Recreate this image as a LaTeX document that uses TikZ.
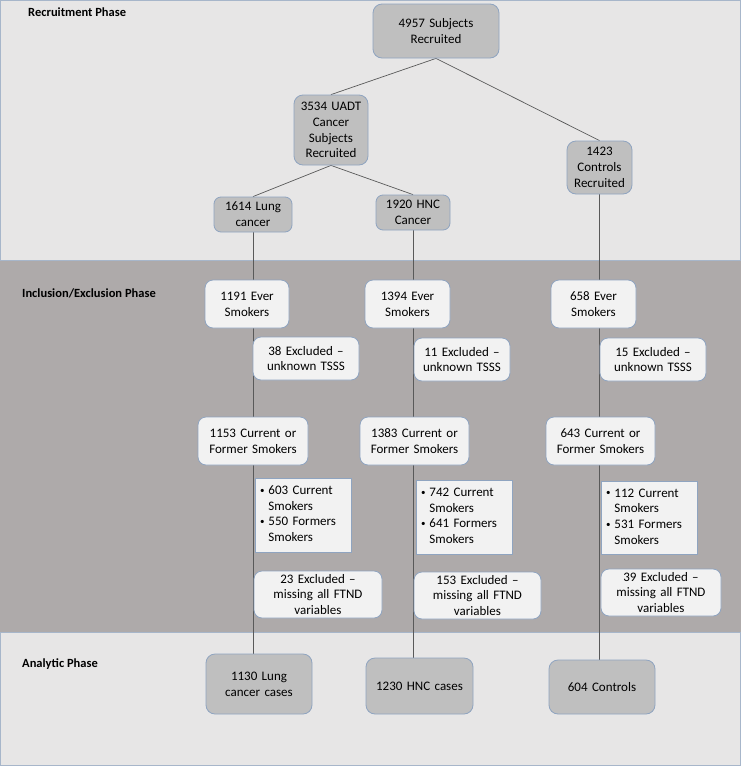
\documentclass[tikz,border=0pt]{standalone}
\usepackage{fontspec}
\setmainfont{Carlito}
\usetikzlibrary{calc}
\definecolor{bandlight}{HTML}{E7E6E6}
\definecolor{banddark}{HTML}{AEAAAA}
\definecolor{bandedge}{HTML}{A7B6CA}
\definecolor{boxdark}{HTML}{BFBFBF}
\definecolor{boxlight}{HTML}{F2F2F2}
\definecolor{boxedge}{HTML}{8FA4C0}
\definecolor{linkcol}{HTML}{595959}
\pgfdeclarelayer{bands}
\pgfdeclarelayer{background}
\pgfsetlayers{bands,background,main}
\newcommand{\smallbul}{{\fontsize{9}{9}\selectfont\raisebox{1.2pt}{•}}}
\tikzset{
  base/.style={draw=boxedge, line width=0.8pt, inner sep=0pt, align=center,
    font=\fontsize{13}{15.7}\selectfont, text=black},
  darkbox/.style={base, fill=boxdark, rounded corners=9pt},
  lightbox/.style={base, fill=boxlight, rounded corners=8pt},
  listbox/.style={base, fill=boxlight, align=left},
  link/.style={draw=linkcol, line width=0.7pt},
  phase/.style={font=\fontsize{12.5}{15}\selectfont\bfseries, anchor=north west, inner sep=0pt},
  band/.style={draw=bandedge, line width=1pt},
  bx/.style n args={3}{minimum width=#1pt, minimum height=#2pt, text width=#3pt}
}
\begin{document}
\begin{tikzpicture}[x=1pt,y=-1pt]
\useasboundingbox (0,0) rectangle (741,766);
% Nodes: recruitment
\node[darkbox, bx={126}{54}{116}] (n4957) at (436,31) {4957 Subjects\\Recruited};
\node[darkbox, bx={74}{70}{70}] (n3534) at (331,130) {3534 UADT\\Cancer\\Subjects\\Recruited};
\node[darkbox, bx={65}{53}{62}] (n1423) at (599.5,167.5) {1423\\Controls\\Recruited};
\node[darkbox, rounded corners=7pt, bx={78}{35}{74}] (n1614) at (253,214.5) {1614 Lung\\cancer};
\node[darkbox, rounded corners=7pt, bx={74}{35}{70}] (n1920) at (413,212.5) {1920 HNC\\Cancer};
% Inclusion / exclusion column 1
\node[lightbox, bx={84}{48}{80}] (e1191) at (247,304) {1191 Ever\\Smokers};
\node[lightbox, bx={106}{43}{100}] (x38) at (306,358.5) {38 Excluded --\\unknown TSSS};
\node[lightbox, bx={110}{48}{106}] (c1153) at (253,441) {1153 Current or\\Former Smokers};
\node[listbox, bx={96}{74}{86}] (b603) at (303,515) {\begin{tabular}{@{}l@{\hspace{4pt}}l@{}}\smallbul&603 Current\\&Smokers\\\smallbul&550 Formers\\&Smokers\end{tabular}};
\node[lightbox, bx={128}{47}{124}] (f23) at (318,594.5) {23 Excluded --\\missing all FTND\\variables};
% column 2
\node[lightbox, bx={85}{48}{80}] (e1394) at (407.5,304) {1394 Ever\\Smokers};
\node[lightbox, bx={96}{43}{94}] (x11) at (462,359.5) {11 Excluded --\\unknown TSSS};
\node[lightbox, bx={109}{48}{106}] (c1383) at (414.5,441) {1383 Current or\\Former Smokers};
\node[listbox, bx={96}{74}{86}] (b742) at (464,517) {\begin{tabular}{@{}l@{\hspace{4pt}}l@{}}\smallbul&742 Current\\&Smokers\\\smallbul&641 Formers\\&Smokers\end{tabular}};
\node[lightbox, bx={127}{47}{124}] (f153) at (477.5,595.5) {153 Excluded --\\missing all FTND\\variables};
% column 3
\node[lightbox, bx={85}{48}{80}] (e658) at (593.5,304) {658 Ever\\Smokers};
\node[lightbox, bx={106}{43}{100}] (x15) at (653,359.5) {15 Excluded --\\unknown TSSS};
\node[lightbox, bx={109}{48}{106}] (c643) at (600.5,441) {643 Current or\\Former Smokers};
\node[listbox, bx={96}{73}{86}] (b112) at (649,517.5) {\begin{tabular}{@{}l@{\hspace{4pt}}l@{}}\smallbul&112 Current\\&Smokers\\\smallbul&531 Formers\\&Smokers\end{tabular}};
\node[lightbox, bx={120}{47}{116}] (f39) at (661,592.5) {39 Excluded --\\missing all FTND\\variables};
% Analytic
\node[darkbox, bx={106}{60}{100}] (a1130) at (259,684) {1130 Lung\\cancer cases};
\node[darkbox, bx={107}{56}{104}] (a1230) at (419.5,686) {1230 HNC cases};
\node[darkbox, bx={106}{54}{100}] (a604) at (602,687) {604 Controls};
% Phase labels
\node[phase] (lrec) at (28,8) {Recruitment Phase};
\node[phase] (linc) at (22,289) {Inclusion/Exclusion Phase};
\node[phase] (lana) at (22,659) {Analytic Phase};
% Connectors
\begin{pgfonlayer}{background}
\draw[link] (n4957.south) -- (n3534.north);
\draw[link] (n4957.south) -- (n1423.north);
\draw[link] (n3534.south) -- (n1614.north);
\draw[link] (n3534.south) -- (n1920.north);
\draw[link] (n1614.south) -- (n1614.south |- a1130.north);
\draw[link] (n1920.south) -- (n1920.south |- a1230.north);
\draw[link] (n1423.south) -- (n1423.south |- a604.north);
\end{pgfonlayer}
% Bands
\begin{pgfonlayer}{bands}
\fill[bandlight] (0,0) rectangle (741,260);
\fill[banddark] (0,260) rectangle (741,632);
\fill[bandlight] (0,632) rectangle (741,766);
\draw[band] (0.5,0.5) rectangle (740.5,260);
\draw[band] (0.5,632) rectangle (740.5,765.5);
\end{pgfonlayer}
\end{tikzpicture}
\end{document}
